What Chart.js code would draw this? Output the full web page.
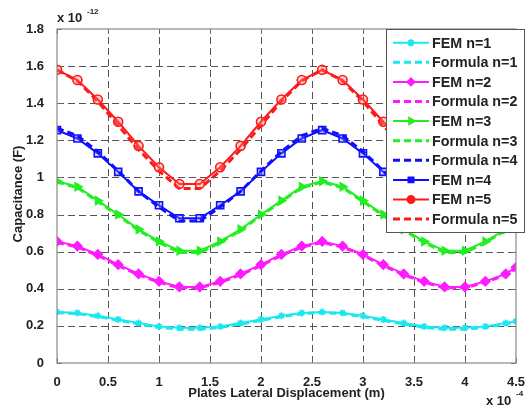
<!DOCTYPE html>
<html>
<head>
<meta charset="utf-8">
<script src="https://cdn.jsdelivr.net/npm/chart.js@4"></script>
<style>
  html, body { margin: 0; padding: 0; background: #fff; }
  #wrap { width: 529px; height: 408px; }
</style>
</head>
<body>
<div id="wrap"><canvas id="grafico"></canvas></div>
<script>
// desplazamiento lateral (x 10^-4 m)
const desplazamiento = [0, 0.2, 0.4, 0.6, 0.8, 1.0, 1.2, 1.4, 1.6, 1.8, 2.0, 2.2, 2.4, 2.6, 2.8, 3.0, 3.2, 3.4, 3.6, 3.8, 4.0, 4.2, 4.4, 4.5];
const ticksX = [0, 0.5, 1, 1.5, 2, 2.5, 3, 3.5, 4, 4.5];
const ticksY = [0, 0.2, 0.4, 0.6, 0.8, 1, 1.2, 1.4, 1.6, 1.8];

// capacitancia (x 10^-12 F)
const femN1 = [0.275, 0.27, 0.255, 0.235, 0.215, 0.197, 0.19, 0.19, 0.197, 0.215, 0.235, 0.255, 0.27, 0.275, 0.27, 0.255, 0.235, 0.215, 0.197, 0.19, 0.19, 0.197, 0.215, 0.225];
const formulaN1 = [0.272, 0.266, 0.25, 0.23, 0.21, 0.192, 0.182, 0.182, 0.192, 0.21, 0.23, 0.25, 0.266, 0.272, 0.266, 0.25, 0.23, 0.21, 0.192, 0.182, 0.182, 0.192, 0.21, 0.22];
const femN2 = [0.655, 0.63, 0.585, 0.53, 0.48, 0.44, 0.41, 0.41, 0.44, 0.48, 0.53, 0.585, 0.63, 0.655, 0.63, 0.585, 0.53, 0.48, 0.44, 0.41, 0.41, 0.44, 0.48, 0.515];
const formulaN2 = [0.65, 0.625, 0.58, 0.525, 0.475, 0.435, 0.405, 0.405, 0.435, 0.475, 0.525, 0.58, 0.625, 0.65, 0.625, 0.58, 0.525, 0.475, 0.435, 0.405, 0.405, 0.435, 0.475, 0.51];
const femN3 = [0.98, 0.95, 0.875, 0.8, 0.72, 0.655, 0.605, 0.605, 0.655, 0.72, 0.8, 0.875, 0.95, 0.98, 0.95, 0.875, 0.8, 0.72, 0.655, 0.605, 0.605, 0.655, 0.72, 0.76];
const formulaN3 = [0.975, 0.945, 0.87, 0.795, 0.715, 0.65, 0.595, 0.595, 0.65, 0.715, 0.795, 0.87, 0.945, 0.975, 0.945, 0.87, 0.795, 0.715, 0.65, 0.595, 0.595, 0.65, 0.715, 0.755];
const formulaN4 = [1.265, 1.225, 1.14, 1.035, 0.925, 0.84, 0.765, 0.765, 0.84, 0.925, 1.035, 1.14, 1.225, 1.265, 1.225, 1.14, 1.035, 0.925, 0.84, 0.765, 0.765, 0.84, 0.925, 0.98];
const femN4 = [1.255, 1.21, 1.13, 1.03, 0.925, 0.85, 0.78, 0.78, 0.85, 0.925, 1.03, 1.13, 1.21, 1.255, 1.21, 1.13, 1.03, 0.925, 0.85, 0.78, 0.78, 0.85, 0.925, 0.98];
const femN5 = [1.58, 1.525, 1.42, 1.3, 1.17, 1.055, 0.965, 0.965, 1.055, 1.17, 1.3, 1.42, 1.525, 1.58, 1.525, 1.42, 1.3, 1.17, 1.055, 0.965, 0.965, 1.055, 1.17, 1.235];
const formulaN5 = [1.58, 1.52, 1.41, 1.28, 1.15, 1.035, 0.94, 0.94, 1.035, 1.15, 1.28, 1.41, 1.52, 1.58, 1.52, 1.41, 1.28, 1.15, 1.035, 0.94, 0.94, 1.035, 1.15, 1.215];

const etiquetas = ["FEM n=1", "Formula n=1", "FEM n=2", "Formula n=2", "FEM n=3", "Formula n=3", "Formula n=4", "FEM n=4", "FEM n=5", "Formula n=5"];

const CYAN = "#19e8f0";
const MAGENTA = "#ff1aff";
const VERDE = "#22ee22";
const AZUL = "#1010ff";
const ROJO = "#ff1a1a";

function puntos(valores) {
  return desplazamiento.map((x, i) => ({ x: x, y: valores[i] }));
}

function fem(label, valores, color, estilo, radio, rot, relleno) {
  return {
    label: label,
    data: puntos(valores),
    borderColor: color,
    backgroundColor: relleno || color,
    borderWidth: 2,
    pointStyle: estilo,
    pointRadius: radio,
    pointRotation: rot || 0,
    pointBorderColor: color,
    pointBorderWidth: 1.6,
    pointBackgroundColor: relleno || color,
    tension: 0,
    fill: false
  };
}

function formula(label, valores, color) {
  return {
    label: label,
    data: puntos(valores),
    borderColor: color,
    backgroundColor: color,
    borderWidth: 3,
    borderDash: [7, 4],
    pointRadius: 0,
    tension: 0,
    fill: false
  };
}

const fuente = "'Liberation Sans', Arial, sans-serif";

// rejilla discontinua estilo matlab
const rejilla = {
  id: "rejilla",
  beforeDatasetsDraw(chart) {
    const ctx = chart.ctx;
    const a = chart.chartArea;
    const sx = chart.scales.x;
    const sy = chart.scales.y;
    ctx.save();
    ctx.strokeStyle = "#555";
    ctx.lineWidth = 1;
    ctx.setLineDash([7, 4]);
    ticksX.forEach(v => {
      const px = Math.round(sx.getPixelForValue(v)) + 0.5;
      if (px <= a.left + 1 || px >= a.right - 1) return;
      ctx.beginPath();
      ctx.moveTo(px, a.bottom);
      ctx.lineTo(px, a.top);
      ctx.stroke();
    });
    ticksY.forEach(v => {
      const py = Math.round(sy.getPixelForValue(v)) + 0.5;
      if (py <= a.top + 1 || py >= a.bottom - 1) return;
      ctx.beginPath();
      ctx.moveTo(a.left, py);
      ctx.lineTo(a.right, py);
      ctx.stroke();
    });
    // marcas cortas hacia dentro
    ctx.setLineDash([]);
    ctx.strokeStyle = "#666";
    ticksX.forEach(v => {
      const px = Math.round(sx.getPixelForValue(v)) + 0.5;
      ctx.beginPath();
      ctx.moveTo(px, a.bottom);
      ctx.lineTo(px, a.bottom - 5);
      ctx.moveTo(px, a.top);
      ctx.lineTo(px, a.top + 5);
      ctx.stroke();
    });
    ticksY.forEach(v => {
      const py = Math.round(sy.getPixelForValue(v)) + 0.5;
      ctx.beginPath();
      ctx.moveTo(a.left, py);
      ctx.lineTo(a.left + 5, py);
      ctx.moveTo(a.right, py);
      ctx.lineTo(a.right - 5, py);
      ctx.stroke();
    });
    ctx.restore();
  }
};

const decoracion = {
  id: "decoracion",
  afterDraw(chart) {
    const ctx = chart.ctx;
    const a = chart.chartArea;
    ctx.save();
    // marco
    ctx.strokeStyle = "#8a8a8a";
    ctx.lineWidth = 1.2;
    ctx.setLineDash([]);
    ctx.strokeRect(a.left, a.top, a.right - a.left, a.bottom - a.top);

    // titulos de ejes
    ctx.fillStyle = "#222";
    ctx.font = "bold 13px " + fuente;
    ctx.textAlign = "center";
    ctx.textBaseline = "middle";
    ctx.fillText("Plates Lateral Displacement (m)", (a.left + a.right) / 2, 393);
    ctx.save();
    ctx.translate(18, 194);
    ctx.rotate(-Math.PI / 2);
    ctx.fillText("Capacitance (F)", 0, 0);
    ctx.restore();

    // exponentes
    ctx.textAlign = "left";
    ctx.textBaseline = "alphabetic";
    ctx.font = "bold 13px " + fuente;
    ctx.fillText("x 10", 57, 22);
    ctx.font = "bold 8px " + fuente;
    ctx.fillText("-12", 87, 14);
    ctx.font = "bold 13px " + fuente;
    ctx.fillText("x 10", 486, 405);
    ctx.font = "bold 8px " + fuente;
    ctx.fillText("-4", 516, 396);

    // leyenda
    const lx = 386.5, ly = 29.5, lw = 138, lh = 203;
    ctx.fillStyle = "#fff";
    ctx.fillRect(lx, ly, lw, lh);
    ctx.strokeStyle = "#555";
    ctx.lineWidth = 1;
    ctx.strokeRect(lx, ly, lw, lh);
    chart.data.datasets.forEach((ds, i) => {
      const y = 42.7 + i * 19.6;
      ctx.strokeStyle = ds.borderColor;
      ctx.lineWidth = ds.borderWidth;
      ctx.setLineDash(ds.borderDash || []);
      ctx.beginPath();
      ctx.moveTo(393, y);
      ctx.lineTo(429, y);
      ctx.stroke();
      ctx.setLineDash([]);
      if (ds.pointRadius > 0) {
        ctx.fillStyle = ds.borderColor;
        ctx.strokeStyle = ds.borderColor;
        Chart.helpers.drawPoint(ctx, {
          pointStyle: ds.pointStyle,
          radius: Math.min(ds.pointRadius, 3.5),
          rotation: ds.pointRotation,
          borderWidth: 1.5
        }, 411, y);
      }
      ctx.fillStyle = "#222";
      ctx.font = "bold 14.3px " + fuente;
      ctx.textAlign = "left";
      ctx.textBaseline = "middle";
      ctx.fillText(ds.label, 432, y + 1);
    });
    ctx.restore();
  }
};

const ctx = document.getElementById("grafico").getContext("2d");
const chart = new Chart(ctx, {
  type: "line",
  data: {
    datasets: [
      fem(etiquetas[0], femN1, CYAN, "star", 3.5),
      formula(etiquetas[1], formulaN1, CYAN),
      fem(etiquetas[2], femN2, MAGENTA, "rectRot", 4.5),
      formula(etiquetas[3], formulaN2, MAGENTA),
      fem(etiquetas[4], femN3, VERDE, "triangle", 4.5, 90),
      formula(etiquetas[5], formulaN3, VERDE),
      formula(etiquetas[6], formulaN4, AZUL),
      fem(etiquetas[7], femN4, AZUL, "rect", 5, 0, "rgba(120,120,255,0.35)"),
      fem(etiquetas[8], femN5, ROJO, "circle", 4.5, 0, "rgba(255,120,120,0.35)"),
      formula(etiquetas[9], formulaN5, ROJO)
    ]
  },
  options: {
    responsive: true,
    maintainAspectRatio: false,
    animation: false,
    layout: { padding: { top: 29, right: 7, left: 0, bottom: 0 } },
    plugins: {
      legend: { display: false },
      tooltip: { enabled: false }
    },
    scales: {
      x: {
        type: "linear",
        min: 0,
        max: 4.5,
        afterFit(scale) { scale.height = 45; },
        afterBuildTicks(scale) { scale.ticks = ticksX.map(v => ({ value: v })); },
        ticks: {
          color: "#222",
          font: { family: fuente, size: 13, weight: "bold" },
          padding: 4,
          maxRotation: 0,
          callback: v => String(v)
        },
        grid: { display: false },
        border: { display: false }
      },
      y: {
        min: 0,
        max: 1.8,
        afterFit(scale) { scale.width = 57; },
        afterBuildTicks(scale) { scale.ticks = ticksY.map(v => ({ value: v })); },
        ticks: {
          color: "#222",
          font: { family: fuente, size: 13, weight: "bold" },
          padding: 5,
          callback: v => String(v)
        },
        grid: { display: false },
        border: { display: false }
      }
    }
  },
  plugins: [rejilla, decoracion]
});
</script>
</body>
</html>
